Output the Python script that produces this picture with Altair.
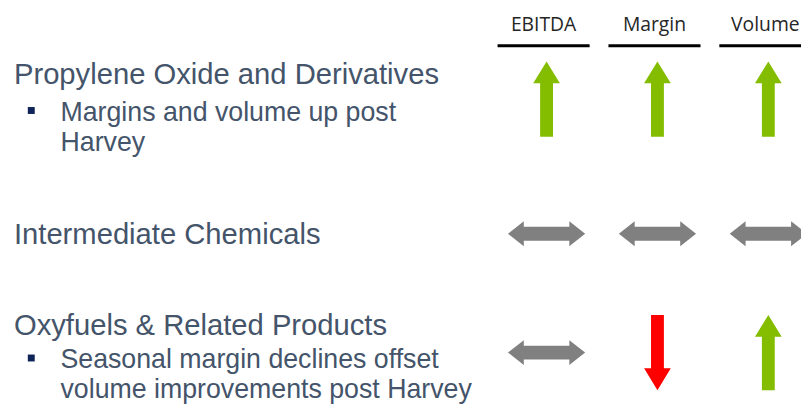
import altair as alt
import pandas as pd

# ---- data ----
segments = ["Propylene Oxide and Derivatives", "Intermediate Chemicals", "Oxyfuels & Related Products"]
bullets = ["Margins and volume up post\nHarvey", "", "Seasonal margin declines offset\nvolume improvements post Harvey"]
metrics = ["EBITDA", "Margin", "Volume"]
ebitda = ["up", "flat", "flat"]
margin = ["up", "flat", "down"]
volume = ["up", "flat", "up"]

# ---- layout (pixel positions of the slide, view coords = page - 8) ----
OFF = 8
row_center = [98, 234, 354]
head_base = [83, 244, 336]
bullet_base = [120, None, 370]

UP = "M0,-1 L0.355,-0.42 L0.171,-0.42 L0.171,1 L-0.171,1 L-0.171,-0.42 L-0.355,-0.42 Z"
DOWN = "M0,1 L0.355,0.42 L0.171,0.42 L0.171,-1 L-0.171,-1 L-0.171,0.42 L-0.355,0.42 Z"
FLAT = ("M-1.026,0 L-0.605,-0.33 L-0.605,-0.184 L0.605,-0.184 L0.605,-0.33 L1.026,0 "
        "L0.605,0.33 L0.605,0.184 L-0.605,0.184 L-0.605,0.33 Z")

xscale = alt.Scale(type="point", domain=metrics, range=[545 - OFF + 7, 769 - OFF + 7], padding=0)

arrows = pd.DataFrame({
    "row": [i for i in range(3) for _ in metrics],
    "metric": metrics * 3,
    "dir": [d for i in range(3) for d in (ebitda[i], margin[i], volume[i])],
})
hdr = pd.DataFrame({"metric": metrics})

layers = []

header = alt.Chart(hdr).mark_text(
    font="Open Sans", fontSize=19.5, color="#262626", baseline="alphabetic", align="center", dx=-3
).encode(x=alt.X("metric:N", scale=xscale, axis=None), y=alt.value(29 - OFF), text="metric:N")
layers.append(header)

underline = alt.Chart(hdr).mark_rule(
    color="#000000", strokeWidth=3, xOffset=-49.5, x2Offset=43.5
).encode(x=alt.X("metric:N", scale=xscale, axis=None), x2="metric:N", y=alt.value(44 - OFF))
layers.append(underline)

for i in range(3):
    t = alt.Chart(pd.DataFrame({"t": [segments[i]]})).mark_text(
        font="Liberation Sans", fontSize=29.5, color="#44546A", align="left", baseline="alphabetic"
    ).encode(x=alt.value(14 - OFF), y=alt.value(head_base[i] - OFF), text="t:N")
    layers.append(t)
    if bullets[i]:
        b = alt.Chart(pd.DataFrame({"t": [bullets[i]]})).mark_text(
            font="Liberation Sans", fontSize=27, color="#44546A", align="left",
            baseline="alphabetic", lineBreak="\n", lineHeight=30
        ).encode(x=alt.value(61 - OFF), y=alt.value(bullet_base[i] - OFF), text="t:N")
        sq = alt.Chart(pd.DataFrame({"t": [bullets[i]]})).mark_square(
            size=49, color="#0E2357", opacity=1
        ).encode(x=alt.value(31.5 - OFF), y=alt.value(bullet_base[i] - 10.5 - OFF))
        layers += [b, sq]
    a = alt.Chart(arrows).transform_filter(alt.datum.row == i).mark_point(
        filled=True, opacity=1, strokeWidth=0, size=5776
    ).encode(
        x=alt.X("metric:N", scale=xscale, axis=None),
        y=alt.value(row_center[i] - OFF),
        shape=alt.Shape("dir:N", scale=alt.Scale(domain=["up", "down", "flat"], range=[UP, DOWN, FLAT]), legend=None),
        color=alt.Color("dir:N", scale=alt.Scale(domain=["up", "down", "flat"],
                                                 range=["#84BD00", "#FF0000", "#808080"]), legend=None),
    )
    layers.append(a)

chart = alt.layer(*layers).properties(
    width=801, height=403, padding=0, autosize=alt.AutoSizeParams(type="none"), background="white"
).configure_view(stroke=None)

chart.save("out.html", embed_options={"renderer": "svg", "actions": False})
